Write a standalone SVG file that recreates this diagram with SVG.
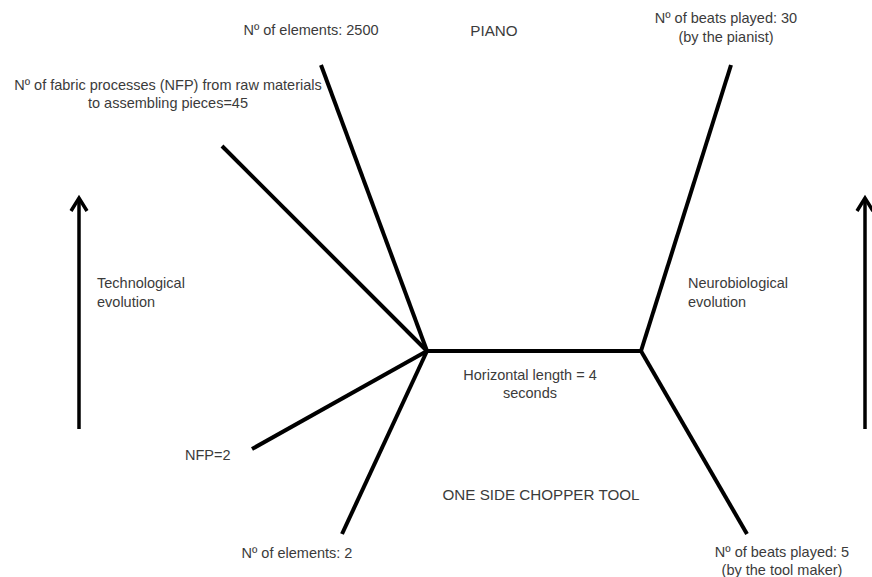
<svg xmlns="http://www.w3.org/2000/svg" width="872" height="577" viewBox="0 0 872 577">
<style>
text{font-family:"Liberation Sans","Open Sans",sans-serif;font-size:14.5px;fill:#3b3b3b}
.m{text-anchor:middle}
.c{font-size:15.2px}
.ln{stroke:#000;stroke-width:4;fill:none;stroke-linecap:butt}
.ar{stroke:#000;stroke-width:3.5;fill:none}
</style>
<rect width="872" height="577" fill="#fff"/>
<g id="connectors">
<line class="ln" x1="427" y1="351" x2="641" y2="351"/>
<line class="ln" x1="427" y1="351" x2="321" y2="65"/>
<line class="ln" x1="427" y1="351" x2="222" y2="146"/>
<line class="ln" x1="427" y1="351" x2="252" y2="449"/>
<line class="ln" x1="427" y1="351" x2="342" y2="534"/>
<line class="ln" x1="641" y1="351" x2="731" y2="65"/>
<line class="ln" x1="641" y1="351" x2="747" y2="534"/>
</g>
<g id="arrow-tech">
<line class="ar" x1="79" y1="429" x2="79" y2="199"/>
<polyline class="ar" points="71,211 79,198 87,211"/>
</g>
<g id="arrow-neuro">
<line class="ar" x1="865" y1="429" x2="865" y2="199"/>
<polyline class="ar" points="857,211 865,198 873,211"/>
</g>
<g id="piano"><text class="m c" x="494" y="36">PIANO</text></g>
<g id="elements-2500"><text class="m" x="311" y="35">Nº of elements: 2500</text></g>
<g id="nfp-45"><text class="m" x="168" y="90">Nº of fabric processes (NFP) from raw materials</text><text class="m" x="168" y="108">to assembling pieces=45</text></g>
<g id="beats-30"><text class="m" x="726" y="23">Nº of beats played: 30</text><text class="m" x="726" y="42">(by the pianist)</text></g>
<g id="tech-evo"><text x="97" y="288">Technological</text><text x="97" y="307">evolution</text></g>
<g id="neuro-evo"><text x="688" y="288">Neurobiological</text><text x="688" y="307">evolution</text></g>
<g id="horizontal"><text class="m" x="530" y="380">Horizontal length = 4</text><text class="m" x="530" y="398">seconds</text></g>
<g id="nfp-2"><text x="185" y="460">NFP=2</text></g>
<g id="chopper"><text class="m c" x="541" y="500">ONE SIDE CHOPPER TOOL</text></g>
<g id="elements-2"><text class="m" x="297" y="558">Nº of elements: 2</text></g>
<g id="beats-5"><text class="m" x="782" y="557">Nº of beats played: 5</text><text class="m" x="782" y="575">(by the tool maker)</text></g>
</svg>
